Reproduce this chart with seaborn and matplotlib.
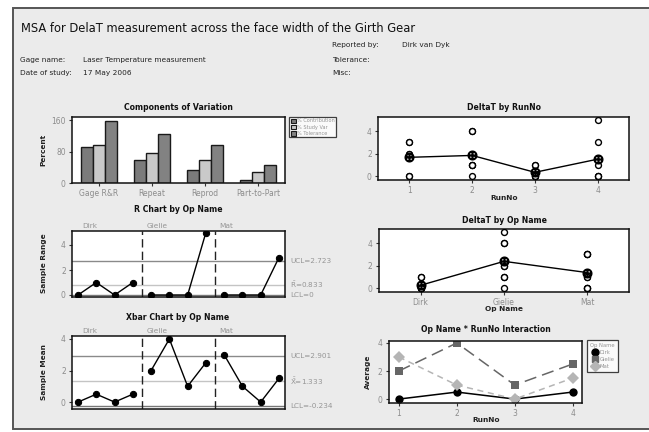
import numpy as np
import pandas as pd
import matplotlib
matplotlib.use("Agg")
import matplotlib.pyplot as plt
import matplotlib.transforms as mtransforms
from matplotlib.patches import Rectangle, Patch
from matplotlib.lines import Line2D
import seaborn as sns

# ---- data ----
operators = ["Dirk", "Gielie", "Mat"]
run_numbers = [1, 2, 3, 4]
# two trials per operator / run (operator-major order)
trial_1 = [0, 0, 0, 0, 2, 4, 1, 0, 3, 1, 0, 0]
trial_2 = [0, 1, 0, 1, 2, 4, 1, 5, 3, 1, 0, 3]

sources = ["Gage R&R", "Repeat", "Reprod", "Part-to-Part"]
pct_contribution = [92, 58, 34, 8]
pct_study_var = [96, 76, 58, 28]
pct_tolerance = [158, 125, 96, 45]
measures = ["% Contribution", "% Study Var", "% Tolerance"]

r_ucl, r_bar, r_lcl = 2.723, 0.833, 0.0
x_ucl, x_dbar, x_lcl = 2.901, 1.333, -0.234

# ---- frames ----
rows = []
k = 0
for op in operators:
    for run in run_numbers:
        rows.append((op, run, trial_1[k]))
        rows.append((op, run, trial_2[k]))
        k += 1
df = pd.DataFrame(rows, columns=["Op Name", "RunNo", "DeltaT"])

sub = (df.groupby(["Op Name", "RunNo"], sort=False)["DeltaT"]
       .agg(mean="mean", rng=lambda s: s.max() - s.min()).reset_index())
sub["idx"] = np.arange(1, len(sub) + 1)

comp = pd.DataFrame({
    "Source": sources * 3,
    "Measure": np.repeat(measures, len(sources)),
    "Percent": pct_contribution + pct_study_var + pct_tolerance,
})

# ---- layout helpers (pixel coords of the 649x432 image) ----
W, H = 649, 432
def box(x0, y0, x1, y1):
    return [x0 / W, 1 - y1 / H, (x1 - x0) / W, (y1 - y0) / H]

def ftext(x, y, s, **kw):
    kw.setdefault("va", "center")
    fig.text(x / W, 1 - y / H, s, **kw)

sns.set_style("ticks")
plt.rcParams["font.family"] = ["DejaVu Sans"]

TICK_GRAY = "#8c8c8c"
LABEL_GRAY = "#959595"
MEAN_MARK = "$\\oplus$"

fig = plt.figure(figsize=(W / 100, H / 100), dpi=100, facecolor="white")
fig.patches.append(Rectangle((13 / W, 1 - 429 / H), 1.0, 421 / H,
                             transform=fig.transFigure, facecolor="#ebebeb",
                             edgecolor="#555555", linewidth=1.4, zorder=-5))

def style_ax(ax):
    ax.set_facecolor("white")
    for sp in ax.spines.values():
        sp.set_visible(True)
        sp.set_color("#111111")
        sp.set_linewidth(1.1)
    ax.tick_params(length=2.5, width=0.8, color="#333333", labelcolor=TICK_GRAY,
                   labelsize=5.5, pad=2)
    ax.set_xlabel("")
    ax.set_ylabel("")

# ---- header ----
ftext(21, 28, "MSA for DelaT measurement across the face width of the Girth Gear",
      fontsize=8.3, color="#111111")
hdr = dict(fontsize=5.3, color="#222222")
ftext(332, 45, "Reported by:", **hdr)
ftext(402, 45, "Dirk van Dyk", **hdr)
ftext(20, 60, "Gage name:", **hdr)
ftext(83, 60, "Laser Temperature measurement", **hdr)
ftext(332, 60, "Tolerance:", **hdr)
ftext(20, 73, "Date of study:", **hdr)
ftext(83, 73, "17 May 2006", **hdr)
ftext(332, 73, "Misc:", **hdr)

title_kw = dict(fontsize=5.6, fontweight="bold", ha="center", color="#111111")
ylab_kw = dict(fontsize=5.3, fontweight="bold", ha="center", rotation=90, color="#222222")

# ---- Components of Variation ----
ax = fig.add_axes(box(72, 117, 285, 183))
bar_colors = ["#7b7b7b", "#c9c9c9", "#828282"]
sns.barplot(data=comp, x="Source", y="Percent", hue="Measure", palette=bar_colors,
            edgecolor="#1a1a1a", linewidth=1.0, width=0.68, legend=False, ax=ax)
style_ax(ax)
ax.set_xlim(-0.5, 3.5)
ax.set_ylim(0, 168)
ax.set_yticks([0, 80, 160])
ftext(178, 108, "Components of Variation", **title_kw)
ftext(43, 150, "Percent", **ylab_kw)
handles = [Patch(facecolor=c, edgecolor="#1a1a1a", linewidth=0.8) for c in bar_colors]
leg = ax.legend(handles, measures, loc="upper left", bbox_to_anchor=(289 / W, 1 - 117 / H),
                bbox_transform=fig.transFigure, fontsize=3.6, frameon=True, fancybox=False,
                edgecolor="#111111", handlelength=1.0, handleheight=1.0, handletextpad=0.3,
                borderpad=0.3, labelspacing=0.25, borderaxespad=0)
leg.get_frame().set_linewidth(0.9)
for t in leg.get_texts():
    t.set_color(LABEL_GRAY)

# ---- DeltaT by RunNo ----
ax = fig.add_axes(box(378, 117, 629, 180))
sns.scatterplot(data=df, x="RunNo", y="DeltaT", facecolor="white", edgecolor="black",
                s=18, linewidth=1, ax=ax, zorder=3)
sns.lineplot(data=df, x="RunNo", y="DeltaT", estimator="mean", errorbar=None,
             color="black", linewidth=1, marker=MEAN_MARK, markersize=6.5,
             markeredgecolor="black", markerfacecolor="black", ax=ax, zorder=4)
style_ax(ax)
ax.set_xlim(0.5, 4.5)
ax.set_ylim(-0.35, 5.25)
ax.set_xticks(run_numbers)
ax.set_yticks([0, 2, 4])
ftext(504, 108, "DeltaT by RunNo", **title_kw)
ftext(504, 198, "RunNo", fontsize=5.3, fontweight="bold", ha="center", color="#222222")

# ---- R chart ----
def control_chart(ax, col, ucl, center, lcl, center_label, lims):
    ax.axhline(ucl, color="#8a8a8a", lw=1, zorder=1)
    ax.axhline(center, color="#c4c4c4", lw=1, zorder=1)
    ax.axhline(lcl, color="#777777", lw=1, zorder=1)
    for b in (4.5, 8.5):
        ax.axvline(b, color="#222222", lw=1, dashes=(6, 3), zorder=1)
    sns.lineplot(data=sub, x="idx", y=col, hue="Op Name",
                 palette=["black"] * len(operators), legend=False, linewidth=1,
                 marker="o", markersize=4.5, markeredgecolor="black", ax=ax, zorder=3)
    style_ax(ax)
    ax.set_xlim(0.67, 12.33)
    ax.set_ylim(*lims)
    ax.set_xticks([])
    ax.set_yticks([0, 2, 4])
    xt = ax.get_xaxis_transform()
    for op, xs in zip(operators, (1.25, 4.75, 8.75)):
        ax.text(xs, 1.03, op, transform=xt, fontsize=5.3, color=LABEL_GRAY,
                ha="left", va="bottom")
    yt = mtransforms.blended_transform_factory(ax.transAxes, ax.transData)
    lab = dict(transform=yt, fontsize=5.2, color=LABEL_GRAY, ha="left", va="center")
    ax.text(1.025, ucl, "UCL=%.3f" % ucl, **lab)
    ax.text(1.025, center, center_label, **lab)
    ax.text(1.025, lcl, "LCL=%g" % lcl if lcl == 0 else "LCL=%.3f" % lcl, **lab)

ax = fig.add_axes(box(72, 231, 285, 297))
control_chart(ax, "rng", r_ucl, r_bar, r_lcl, r"$\bar{\mathrm{R}}$=%.3f" % r_bar, (-0.16, 5.12))
ftext(178, 209, "R Chart by Op Name", **title_kw)
ftext(44, 263, "Sample Range", **ylab_kw)

# ---- DeltaT by Op Name ----
ax = fig.add_axes(box(379, 229, 629, 292))
sns.stripplot(data=df, x="Op Name", y="DeltaT", jitter=False, color="white",
              edgecolor="black", linewidth=1, size=4.3, ax=ax, zorder=3)
sns.pointplot(data=df, x="Op Name", y="DeltaT", estimator="mean", errorbar=None,
              color="black", marker=MEAN_MARK, markersize=6.5, linewidth=1,
              markeredgecolor="black", ax=ax, zorder=4)
style_ax(ax)
ax.set_xlim(-0.5, 2.5)
ax.set_ylim(-0.35, 5.25)
ax.set_yticks([0, 2, 4])
ftext(504, 220, "DeltaT by Op Name", **title_kw)
ftext(504, 309, "Op Name", fontsize=5.3, fontweight="bold", ha="center", color="#222222")

# ---- Xbar chart ----
ax = fig.add_axes(box(72, 336, 285, 409))
control_chart(ax, "mean", x_ucl, x_dbar, x_lcl,
              r"$\bar{\bar{\mathrm{X}}}$=%.3f" % x_dbar, (-0.44, 4.19))
ftext(178, 317, "Xbar Chart by Op Name", **title_kw)
ftext(44, 372, "Sample Mean", **ylab_kw)

# ---- Interaction ----
ax = fig.add_axes(box(389, 341, 582, 403))
inter_colors = ["black", "#666666", "#b5b5b5"]
inter_markers = ["o", "s", "D"]
sns.lineplot(data=df, x="RunNo", y="DeltaT", hue="Op Name", style="Op Name",
             estimator="mean", errorbar=None, palette=inter_colors,
             markers=inter_markers, dashes=["", (8, 4), (4, 3)], markersize=6,
             markeredgewidth=0, linewidth=1.1, legend=False, ax=ax)
style_ax(ax)
ax.set_xlim(0.83, 4.16)
ax.set_ylim(-0.28, 4.14)
ax.set_xticks(run_numbers)
ax.set_yticks([0, 2, 4])
ftext(486, 330, "Op Name * RunNo Interaction", **title_kw)
ftext(368, 372, "Average", **ylab_kw)
ftext(486, 420, "RunNo", fontsize=5.3, fontweight="bold", ha="center", color="#222222")
handles = [Line2D([], [], marker=m, color=c, linestyle="none", markersize=5)
           for m, c in zip(inter_markers, inter_colors)]
leg = ax.legend(handles, operators, title="Op Name", loc="upper left",
                bbox_to_anchor=(587 / W, 1 - 340 / H), bbox_transform=fig.transFigure,
                fontsize=3.8, title_fontsize=3.8, frameon=True, fancybox=False,
                edgecolor="#111111", handlelength=1.0, handletextpad=0.5,
                borderpad=0.6, labelspacing=0.35, borderaxespad=0)
leg._legend_box.align = "right"
leg.get_frame().set_linewidth(0.9)
leg.get_title().set_color(LABEL_GRAY)
for t in leg.get_texts():
    t.set_color(LABEL_GRAY)

fig.savefig("out.png", dpi=100, facecolor="white")
